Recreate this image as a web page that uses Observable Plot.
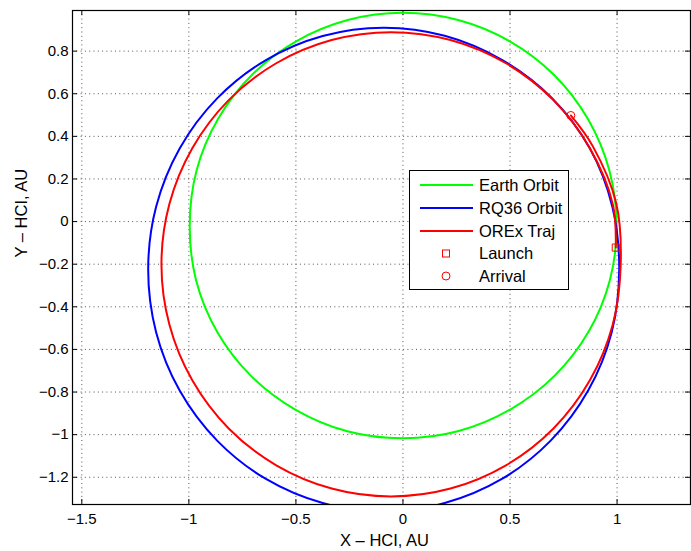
<!DOCTYPE html>
<html>
<head>
<meta charset="utf-8">
<script src="https://cdn.jsdelivr.net/npm/d3@7"></script>
<script src="https://cdn.jsdelivr.net/npm/@observablehq/plot@0.6"></script>
<style>
  html, body { margin: 0; padding: 0; background: #fff; }
  #wrap { position: relative; width: 691px; height: 551px; font-family: "Liberation Sans", Arial, sans-serif; }
  #legend { position: absolute; left: 409px; top: 170px; width: 158px; height: 118px; border: 1px solid #000; background: #fff; }
</style>
</head>
<body>
<div id="wrap">
  <div id="chart"></div>
  <div id="legend"></div>
</div>
<script>
// Axis limits and ticks (AU)
const xLimits = [-1.5435, 1.343];
const yLimits = [-1.3278, 0.9906];
const xTicks = [-1.5, -1, -0.5, 0, 0.5, 1];
const yTicks = [-1.2, -1, -0.8, -0.6, -0.4, -0.2, 0, 0.2, 0.4, 0.6, 0.8];

// Earth orbit (closed), points [x, y] in AU
const earthOrbit = [
  [0.998, -0.018], [0.964, 0.240], [0.864, 0.481], [0.706, 0.688], [0.499, 0.846],
  [0.258, 0.946], [0.0, 0.980], [-0.258, 0.946], [-0.499, 0.846], [-0.706, 0.688],
  [-0.864, 0.481], [-0.964, 0.240], [-0.996, -0.018], [-0.966, -0.276], [-0.868, -0.517],
  [-0.710, -0.724], [-0.503, -0.882], [-0.260, -0.984], [0.0, -1.017], [0.260, -0.983],
  [0.503, -0.881], [0.710, -0.722], [0.868, -0.515], [0.966, -0.276]
];

// RQ36 orbit (closed)
const rq36Orbit = [
  [1.010, -0.225], [0.978, 0.070], [0.872, 0.345], [0.695, 0.580], [0.462, 0.759],
  [0.195, 0.872], [-0.090, 0.910], [-0.375, 0.871], [-0.640, 0.758], [-0.868, 0.578],
  [-1.043, 0.343], [-1.153, 0.069], [-1.190, -0.225], [-1.153, -0.519], [-1.043, -0.793],
  [-0.868, -1.028], [-0.640, -1.208], [-0.375, -1.321], [-0.090, -1.360], [0.195, -1.321],
  [0.462, -1.208], [0.690, -1.028], [0.865, -0.793], [0.975, -0.519]
];

// OREx trajectory (launch -> one revolution -> Earth flyby -> arrival)
const orexTraj = [
  [0.994, -0.122], [0.980, 0.082], [0.873, 0.344], [0.703, 0.570], [0.481, 0.743],
  [0.222, 0.852], [-0.056, 0.889], [-0.333, 0.852], [-0.592, 0.743], [-0.814, 0.570],
  [-0.984, 0.344], [-1.091, 0.082], [-1.128, -0.201], [-1.091, -0.483], [-0.984, -0.745],
  [-0.814, -0.971], [-0.592, -1.144], [-0.333, -1.253], [-0.056, -1.290], [0.222, -1.253],
  [0.481, -1.144], [0.703, -0.971], [0.873, -0.745], [0.980, -0.483], [1.017, -0.201],
  [0.996, 0.086], [0.887, 0.353], [0.784, 0.498]
];

const launchPt = [[0.994, -0.122]];
const arrivalPt = [[0.784, 0.498]];

const legendNames = ["Earth Orbit", "RQ36 Orbit", "OREx Traj", "Launch", "Arrival"];
const seriesColors = ["#00ff00", "#0000ff", "#ff0000"];

const W = 691, H = 551;
const mL = 72, mR = 1, mT = 10, mB = 47;
const frameH = H - mT - mB, frameW = W - mL - mR;
const tickLen = 5;
const font = "Liberation Sans, Arial, sans-serif";
const fmt = d3.format("~g");

const chart = Plot.plot({
  width: W, height: H,
  marginLeft: mL, marginRight: mR, marginTop: mT, marginBottom: mB,
  style: { fontFamily: font, fontSize: "15px", background: "#fff", color: "#000" },
  x: { domain: xLimits },
  y: { domain: yLimits },
  marks: [
    Plot.gridX(xTicks, { stroke: "#555", strokeOpacity: 1, strokeWidth: 1, strokeDasharray: "1,3.3" }),
    Plot.gridY(yTicks, { stroke: "#555", strokeOpacity: 1, strokeWidth: 1, strokeDasharray: "1,3.3" }),
    // inward ticks on all four sides
    Plot.ruleX(xTicks, { x: d => d, insetTop: frameH - tickLen, stroke: "#000" }),
    Plot.ruleX(xTicks, { x: d => d, insetBottom: frameH - tickLen, stroke: "#000" }),
    Plot.ruleY(yTicks, { y: d => d, insetRight: frameW - tickLen, stroke: "#000" }),
    Plot.ruleY(yTicks, { y: d => d, insetLeft: frameW - tickLen, stroke: "#000" }),
    Plot.axisX(xTicks, { anchor: "bottom", tickSize: 0, tickPadding: 9, label: null, fontSize: 15, tickFormat: fmt }),
    Plot.axisY(yTicks, { anchor: "left", tickSize: 0, tickPadding: 4, label: null, fontSize: 15, tickFormat: fmt }),
    Plot.line(earthOrbit, { x: d => d[0], y: d => d[1], stroke: seriesColors[0], strokeWidth: 2, curve: "catmull-rom-closed", clip: true }),
    Plot.line(rq36Orbit, { x: d => d[0], y: d => d[1], stroke: seriesColors[1], strokeWidth: 2, curve: "catmull-rom-closed", clip: true }),
    Plot.line(orexTraj, { x: d => d[0], y: d => d[1], stroke: seriesColors[2], strokeWidth: 2, curve: "catmull-rom", clip: true }),
    Plot.dot(launchPt, { x: d => d[0], y: d => d[1], symbol: "square", r: 4, stroke: seriesColors[2], fill: "none", strokeWidth: 1 }),
    Plot.dot(arrivalPt, { x: d => d[0], y: d => d[1], symbol: "circle", r: 4, stroke: seriesColors[2], fill: "none", strokeWidth: 1 }),
    Plot.frame({ stroke: "#000", strokeWidth: 1.2 }),
    Plot.text(["X – HCI, AU"], { frameAnchor: "bottom", dy: 36, text: d => d, fontSize: 16.5, lineAnchor: "middle", dx: 3 }),
    Plot.text(["Y – HCI, AU"], { frameAnchor: "left", dx: -51, rotate: -90, text: d => d, fontSize: 16.5, lineAnchor: "middle" })
  ]
});
document.getElementById("chart").appendChild(chart);

// Legend
const lg = d3.select("#legend").append("svg").attr("width", 158).attr("height", 118)
  .style("font-family", font).style("font-size", "16.5px");
const rowsY = [14, 37, 60, 82.5, 105];
legendNames.forEach((name, i) => {
  const y = rowsY[i];
  if (i < 3) {
    lg.append("line").attr("x1", 10).attr("x2", 63).attr("y1", y).attr("y2", y)
      .attr("stroke", seriesColors[i]).attr("stroke-width", 2);
  } else if (i === 3) {
    lg.append("rect").attr("x", 32.5).attr("y", y - 3.5).attr("width", 7).attr("height", 7)
      .attr("fill", "none").attr("stroke", "#ff0000");
  } else {
    lg.append("circle").attr("cx", 36).attr("cy", y).attr("r", 4)
      .attr("fill", "none").attr("stroke", "#ff0000");
  }
  lg.append("text").attr("x", 69).attr("y", y).attr("dy", "0.35em").attr("fill", "#000").text(name);
});
</script>
</body>
</html>
